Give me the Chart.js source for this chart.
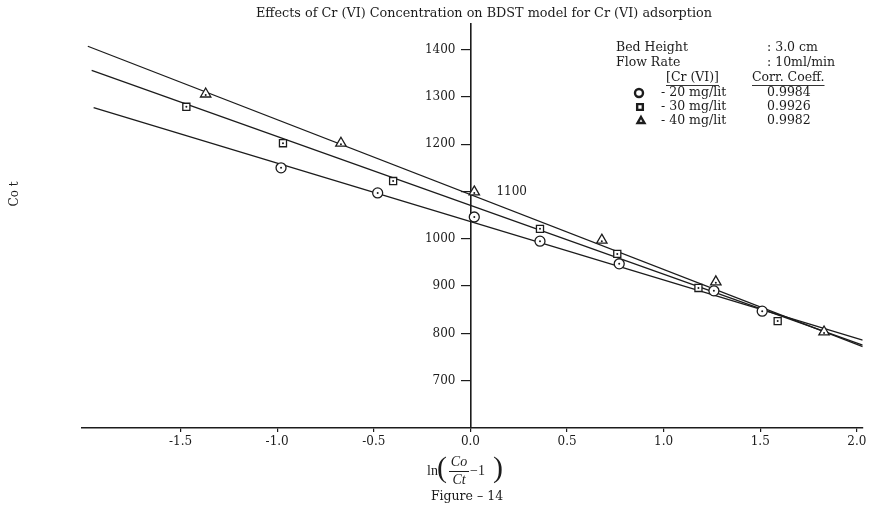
<!DOCTYPE html>
<html>
<head>
<meta charset="utf-8">
<script src="https://cdn.jsdelivr.net/npm/chart.js@4.4.1/dist/chart.umd.min.js"></script>
<style>
    html, body { margin: 0; padding: 0; background: #fff; }
    #wrap { width: 870px; height: 508px; }
</style>
</head>
<body>
<div id="wrap"><canvas id="bdst"></canvas></div>
<script>
// tick labels
const xTicks = [-1.5, -1.0, -0.5, 0.0, 0.5, 1.0, 1.5, 2.0];
const yTicks = [700, 800, 900, 1000, 1100, 1200, 1300, 1400];

// measured points, ln(Co/Ct - 1) vs Co t
const x20 = [-0.98, -0.48, 0.02, 0.36, 0.77, 1.26, 1.51];
const y20 = [1150, 1097, 1046, 995, 947, 890, 847];
const x30 = [-1.47, -0.97, -0.40, 0.36, 0.76, 1.18, 1.59];
const y30 = [1279, 1202, 1122, 1021, 968, 896, 826];
const x40 = [-1.37, -0.67, 0.02, 0.68, 1.27, 1.83];
const y40 = [1306, 1202, 1099, 997, 909, 803];

// fitted lines, end points
const fit20X = [-1.95, 2.03];
const fit20Y = [1277, 786];
const fit30X = [-1.96, 2.03];
const fit30Y = [1356, 775];
const fit40X = [-1.98, 2.03];
const fit40Y = [1407, 772];

const seriesNames = ['- 20 mg/lit', '- 30 mg/lit', '- 40 mg/lit'];
const corrCoeff = ['0.9984', '0.9926', '0.9982'];
const markers = ['circle', 'rect', 'triangle'];

const ink = '#1c1c1c';
const serif = '"Liberation Serif", "Times New Roman", serif';
const wideSerif = '"DejaVu Serif", serif';

function pts(xs, ys) {
    return xs.map((v, i) => ({ x: v, y: ys[i] }));
}

function fitSet(xs, ys) {
    return {
        type: 'line',
        data: pts(xs, ys),
        borderColor: ink,
        borderWidth: 1.3,
        pointRadius: 0,
        fill: false,
        order: 2
    };
}

function markSet(xs, ys, style, r) {
    return {
        type: 'scatter',
        data: pts(xs, ys),
        pointStyle: style,
        pointRadius: r,
        pointBorderWidth: 1.3,
        pointBorderColor: ink,
        pointBackgroundColor: '#fff',
        order: 1
    };
}

const notes = {
    id: 'notes',
    afterDraw(chart) {
        const { ctx } = chart;
        const xs = chart.scales.x;
        const ys = chart.scales.y;
        const axisX = xs.getPixelForValue(0);
        ctx.save();
        ctx.fillStyle = ink;
        ctx.strokeStyle = ink;
        ctx.textBaseline = 'middle';

        // little dot in the middle of every marker
        [3, 4, 5].forEach(i => {
            chart.getDatasetMeta(i).data.forEach(p => {
                ctx.beginPath();
                ctx.arc(p.x, p.y + (i === 5 ? 1 : 0), 1, 0, Math.PI * 2);
                ctx.fill();
            });
        });

        // title
        ctx.textAlign = 'center';
        ctx.font = '12.8px ' + wideSerif;
        ctx.fillText('Effects of Cr (VI) Concentration on BDST model for Cr (VI) adsorption', 484, 14);

        // y tick labels, left of the middle axis; 1100 sits on the right
        ctx.font = '12px ' + wideSerif;
        yTicks.forEach(v => {
            if (v === 1100) {
                ctx.textAlign = 'left';
                ctx.fillText(String(v), axisX + 26, ys.getPixelForValue(v));
            } else {
                ctx.textAlign = 'right';
                ctx.fillText(String(v), axisX - 15, ys.getPixelForValue(v));
            }
        });

        // y title
        ctx.save();
        ctx.translate(15, 194);
        ctx.rotate(-Math.PI / 2);
        ctx.textAlign = 'center';
        ctx.font = '12px ' + wideSerif;
        ctx.fillText('Co t', 0, 0);
        ctx.restore();

        // x title ln(Co/Ct - 1)
        ctx.font = '14px ' + serif;
        ctx.textAlign = 'left';
        ctx.fillText('ln', 427, 471);
        ctx.font = '30px ' + serif;
        ctx.fillText('(', 437, 469);
        ctx.fillText(')', 493, 469);
        ctx.font = 'italic 14px ' + serif;
        ctx.textAlign = 'center';
        ctx.fillText('Co', 459, 462);
        ctx.fillText('Ct', 459, 480);
        ctx.lineWidth = 1;
        ctx.beginPath();
        ctx.moveTo(449, 471.5);
        ctx.lineTo(469, 471.5);
        ctx.stroke();
        ctx.font = '14px ' + serif;
        ctx.textAlign = 'left';
        ctx.fillText('\u22121', 470, 471);

        ctx.textAlign = 'center';
        ctx.font = '12.5px ' + wideSerif;
        ctx.fillText('Figure \u2013 14', 467, 497);

        // key block
        ctx.textAlign = 'left';
        ctx.font = '12.5px ' + wideSerif;
        ctx.fillText('Bed Height', 616, 48);
        ctx.fillText(': 3.0 cm', 767, 48);
        ctx.fillText('Flow Rate', 616, 63);
        ctx.fillText(': 10ml/min', 767, 63);
        ctx.fillText('[Cr (VI)]', 666, 78);
        ctx.fillText('Corr. Coeff.', 752, 78);
        ctx.lineWidth = 0.9;
        ctx.beginPath();
        ctx.moveTo(666, 85.5);
        ctx.lineTo(666 + ctx.measureText('[Cr (VI)]').width, 85.5);
        ctx.moveTo(752, 85.5);
        ctx.lineTo(752 + ctx.measureText('Corr. Coeff.').width, 85.5);
        ctx.stroke();
        seriesNames.forEach((name, i) => {
            const yy = 93 + i * 14;
            ctx.fillStyle = ink;
            ctx.fillText(name, 661, yy);
            ctx.fillText(corrCoeff[i], 767, yy);
            ctx.fillStyle = '#fff';
            ctx.strokeStyle = ink;
            ctx.lineWidth = 2.4;
            Chart.helpers.drawPoint(ctx, {
                pointStyle: markers[i], radius: 4, borderWidth: 2.4
            }, 639 + i, yy);
        });
        ctx.restore();
    }
};

new Chart(document.getElementById('bdst'), {
    data: {
        datasets: [
            fitSet(fit20X, fit20Y),
            fitSet(fit30X, fit30Y),
            fitSet(fit40X, fit40Y),
            markSet(x20, y20, 'circle', 5),
            markSet(x30, y30, 'rect', 5),
            markSet(x40, y40, 'triangle', 6)
        ]
    },
    options: {
        responsive: true,
        maintainAspectRatio: false,
        animation: false,
        events: [],
        layout: { padding: { left: 82, right: 2, top: 24, bottom: 0 } },
        plugins: {
            legend: { display: false },
            tooltip: { enabled: false },
            title: { display: false }
        },
        scales: {
            x: {
                type: 'linear',
                position: 'bottom',
                min: -2.01,
                max: 2.03,
                afterBuildTicks: s => { s.ticks = xTicks.map(v => ({ value: v })); },
                afterFit: s => { s.height = 80; },
                border: { display: true, color: ink, width: 1.6 },
                grid: { display: true, drawOnChartArea: false, drawTicks: true, tickLength: 4, color: ink, lineWidth: 1.2 },
                ticks: {
                    color: ink,
                    padding: 3,
                    maxRotation: 0,
                    autoSkip: false,
                    font: { family: wideSerif, size: 12 },
                    callback: v => v.toFixed(1)
                }
            },
            y: {
                type: 'linear',
                position: { x: 0 },
                min: 600,
                max: 1454,
                afterBuildTicks: s => { s.ticks = yTicks.map(v => ({ value: v })); },
                afterFit: s => { s.width = 0; },
                border: { display: true, color: ink, width: 1.6 },
                grid: { display: true, drawOnChartArea: false, drawTicks: true, tickLength: 9, color: ink, lineWidth: 1.2 },
                ticks: {
                    display: false
                }
            }
        }
    },
    plugins: [notes]
});
</script>
</body>
</html>
